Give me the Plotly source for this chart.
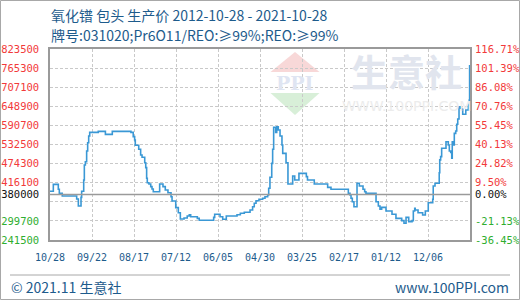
import plotly.graph_objects as go

# ---------------- data ----------------
TITLE_LINE1 = "氧化镨 包头 生产价 2012-10-28 - 2021-10-28"
TITLE_LINE2 = "牌号:031020;Pr6O11/REO:≥99%;REO:≥99%"

BASE = 380000
Y_TICKS = [241500, 299700, 357900, 416100, 474300, 532500, 590700, 648900, 707100, 765300, 823500]

X_TICK_DATES = ["2012-10-28", "2013-09-22", "2014-08-17", "2015-07-12", "2016-06-05",
                "2017-04-30", "2018-03-25", "2019-02-17", "2020-01-12", "2020-12-06"]
X_TICK_LABELS = ["10/28", "09/22", "08/17", "07/12", "06/05",
                 "04/30", "03/25", "02/17", "01/12", "12/06"]
X_RANGE = ["2012-10-28", "2021-10-31"]

dates = [
    "2012-10-28", "2012-11-23", "2013-01-01", "2013-01-09", "2013-02-01", "2013-05-25",
    "2013-06-07", "2013-06-28", "2013-07-03", "2013-07-19", "2013-07-24", "2013-08-01",
    "2013-08-11", "2013-08-19", "2013-08-27", "2013-09-04", "2013-11-10", "2014-01-05",
    "2014-02-28", "2014-07-24", "2014-08-11", "2014-08-22", "2014-08-27", "2014-09-23",
    "2014-10-08", "2014-10-19", "2014-11-09", "2014-11-17", "2014-11-24", "2014-11-29",
    "2014-12-12", "2014-12-26", "2015-01-05", "2015-01-15", "2015-03-06", "2015-04-01",
    "2015-04-19", "2015-05-10", "2015-06-03", "2015-06-11", "2015-07-10", "2015-07-30",
    "2015-08-15", "2015-09-13", "2015-10-08", "2015-10-24", "2015-11-04", "2015-12-26",
    "2016-01-10", "2016-05-02", "2016-05-10", "2016-06-21", "2016-07-12", "2016-08-09",
    "2016-11-01", "2016-11-27", "2016-12-28", "2017-02-11", "2017-03-03", "2017-03-16",
    "2017-03-30", "2017-04-22", "2017-05-21", "2017-06-08", "2017-06-29", "2017-07-07",
    "2017-07-17", "2017-07-31", "2017-08-07", "2017-08-15", "2017-08-31", "2017-09-08",
    "2017-09-20", "2017-10-04", "2017-10-19", "2017-10-25", "2017-11-20", "2017-12-05",
    "2018-01-11", "2018-01-27", "2018-03-01", "2018-04-28", "2018-05-07", "2018-06-29",
    "2018-10-12", "2018-11-07", "2019-03-23", "2019-04-05", "2019-04-13", "2019-04-23",
    "2019-05-06", "2019-05-30", "2019-06-17", "2019-07-16", "2019-07-29", "2019-08-08",
    "2019-10-26", "2019-11-13", "2019-11-26", "2019-12-09", "2020-01-12", "2020-02-28",
    "2020-03-30", "2020-05-14", "2020-06-01", "2020-06-17", "2020-07-08", "2020-08-03",
    "2020-08-13", "2020-08-24", "2020-08-28", "2020-09-19", "2020-10-25", "2020-11-15",
    "2020-12-08", "2021-01-12", "2021-01-16", "2021-01-30", "2021-03-04", "2021-03-08",
    "2021-03-15", "2021-03-23", "2021-04-26", "2021-05-14", "2021-05-22", "2021-06-02",
    "2021-06-10", "2021-06-14", "2021-06-22", "2021-06-30", "2021-07-11", "2021-07-19",
    "2021-07-27", "2021-08-06", "2021-08-19", "2021-08-27", "2021-09-04", "2021-09-28",
    "2021-10-18", "2021-10-25", "2021-10-28",
]
prices = [
    390000, 411000, 396000, 384000, 375500, 366500,
    345000, 371500, 390000, 424500, 470000, 480000,
    512500, 538000, 558500, 569500, 572500, 563500,
    572500, 569500, 556500, 546000, 530000, 518000,
    500500, 493500, 477000, 462000, 429500, 416000,
    412000, 404000, 397000, 388500, 412000, 404000,
    394000, 385500, 373500, 360500, 340000, 324500,
    305500, 308500, 314500, 318500, 312500, 307500,
    301500, 310500, 320000, 312500, 304500, 314500,
    318500, 323000, 326000, 333000, 343000, 353500,
    361000, 365500, 368500, 373500, 378500, 399000,
    432500, 475000, 518000, 585000, 569500, 586500,
    576500, 558500, 531000, 505500, 477000, 412000,
    436500, 424500, 444500, 434500, 424500, 412000,
    402000, 396000, 384000, 378500, 368500, 358000,
    343000, 414500, 406000, 396000, 388500, 384000,
    358000, 345000, 335000, 341000, 330000, 320000,
    307500, 300500, 292500, 310500, 297500, 300500,
    330000, 338000, 333000, 324500, 317500, 330000,
    355000, 365500, 406000, 414500, 446500, 485500,
    495500, 521000, 541000, 531000, 512500, 508500,
    490500, 541000, 531000, 566500, 573500, 594000,
    610000, 647500, 643000, 639500, 624500, 637500,
    653000, 668000, 775000,
]

# ---------------- styles ----------------
RED = "#f23a3a"
GREEN = "#2fae2f"
BLACK = "#111111"
BLUE_TXT = "#1d5b8c"
LINE = "#3a98d5"
AXIS_GRAY = "#9a9a9a"
GRID_GRAY = "#c9c9c9"


def colored(text, v):
    c = RED if v > BASE else (BLACK if v == BASE else GREEN)
    return f'<span style="color:{c}">{text}</span>'


tick_vals = sorted(Y_TICKS + [BASE])
left_text, right_text = [], []
for v in tick_vals:
    if v != BASE and abs(v - BASE) < 30000:
        left_text.append("")
        right_text.append("")
        continue
    left_text.append(colored(str(v), v))
    right_text.append(colored(f"{(v - BASE) / BASE * 100:.2f}%", v))

y_range = [Y_TICKS[0], Y_TICKS[-1]]

fig = go.Figure()
fig.add_trace(go.Scatter(x=dates, y=prices, mode="lines", line=dict(color=LINE, width=1.6, shape="hv"),
                         hoverinfo="skip", showlegend=False))
fig.add_trace(go.Scatter(x=dates, y=prices, mode="lines", line=dict(width=0), opacity=0,
                         yaxis="y2", hoverinfo="skip", showlegend=False))

# plot-area pixel helpers for decoration (plot spans x 50..470, y 49..240)
L, R, T, B = 50, 470, 49, 240


def px(x):
    return (x - L) / (R - L)


def py(y):
    return (B - y) / (B - T)


shapes = [
    # base line
    dict(type="line", xref="paper", x0=0, x1=1, yref="y", y0=BASE, y1=BASE,
         line=dict(color=AXIS_GRAY, width=1.5), layer="above"),
    # outer border
    dict(type="rect", xref="paper", yref="paper", x0=px(0.5), x1=px(519.5), y0=py(299.5), y1=py(0.5),
         line=dict(color="#a8a8a8", width=1)),
    # footer separator
    dict(type="line", xref="paper", yref="paper", x0=px(10), x1=px(510), y0=py(275), y1=py(275),
         line=dict(color="#a8a8a8", width=1)),
    # watermark logo
    dict(type="path", xref="paper", yref="paper", layer="below",
         path=f"M {px(270.5)} {py(72)} L {px(295)} {py(52)} L {px(319.5)} {py(72)} Z",
         fillcolor="#f8d8d8", line=dict(width=0)),
    dict(type="path", xref="paper", yref="paper", layer="below",
         path=f"M {px(270.5)} {py(93)} L {px(295)} {py(115)} L {px(319.5)} {py(93)} Z",
         fillcolor="#d8efd8", line=dict(width=0)),
]

annotations = [
    dict(text=TITLE_LINE1, xref="paper", yref="paper", x=px(49), y=py(15), xanchor="left", yanchor="middle",
         showarrow=False, font=dict(family="Noto Sans CJK SC", size=14, color=BLUE_TXT)),
    dict(text=TITLE_LINE2, xref="paper", yref="paper", x=px(49), y=py(35), xanchor="left", yanchor="middle",
         showarrow=False, font=dict(family="Noto Sans CJK SC", size=14, color=BLUE_TXT)),
    dict(text="© 2021.11 生意社", xref="paper", yref="paper", x=px(9), y=py(287), xanchor="left",
         yanchor="middle", showarrow=False, font=dict(family="Noto Sans CJK SC", size=14, color=BLUE_TXT)),
    dict(text="www.100PPI.com", xref="paper", yref="paper", x=px(511), y=py(287), xanchor="right",
         yanchor="middle", showarrow=False, font=dict(family="Noto Sans CJK SC", size=14, color=BLUE_TXT)),
    # watermark texts
    dict(text="<b>生意社</b>", xref="paper", yref="paper", x=px(406), y=py(71), xanchor="center",
         yanchor="middle", showarrow=False, font=dict(family="Noto Sans CJK SC", size=37, color="#e1e5ee")),
    dict(text="WWW.100PPI.COM", xref="paper", yref="paper", x=px(406), y=py(106), xanchor="center",
         yanchor="middle", showarrow=False, font=dict(family="DejaVu Sans", size=14, color="#ececec")),
    dict(text="<b>PPI</b>", xref="paper", yref="paper", x=px(295), y=py(83), xanchor="center",
         yanchor="middle", showarrow=False, font=dict(family="DejaVu Serif", size=19, color="#dfe5f2")),
]

tick_font = dict(family="DejaVu Sans Mono", size=10.5)

fig.update_layout(
    width=520, height=300,
    margin=dict(l=L, r=520 - R, t=T, b=300 - B, autoexpand=False),
    paper_bgcolor="white", plot_bgcolor="white",
    showlegend=False,
    shapes=shapes, annotations=annotations,
    xaxis=dict(type="date", range=X_RANGE, tickvals=X_TICK_DATES, ticktext=X_TICK_LABELS,
               showgrid=True, gridcolor=GRID_GRAY, griddash="3px,2px", gridwidth=1,
               showline=True, linecolor=AXIS_GRAY, linewidth=1.5, mirror=True,
               ticks="", ticklabelstandoff=7, zeroline=False,
               tickfont=dict(family="DejaVu Sans Mono", size=10, color=BLUE_TXT)),
    yaxis=dict(range=y_range, tickvals=tick_vals, ticktext=left_text,
               showgrid=True, gridcolor=GRID_GRAY, griddash="3px,2px", gridwidth=1,
               showline=True, linecolor=AXIS_GRAY, linewidth=1.5, mirror=True,
               ticks="", ticklabelstandoff=7, zeroline=False, tickfont=tick_font),
    yaxis2=dict(range=y_range, overlaying="y", side="right", tickvals=tick_vals, ticktext=right_text,
                showgrid=False, showline=False, ticks="", ticklabelstandoff=4, zeroline=False,
                tickfont=tick_font),
)

fig.write_html("out.html")
